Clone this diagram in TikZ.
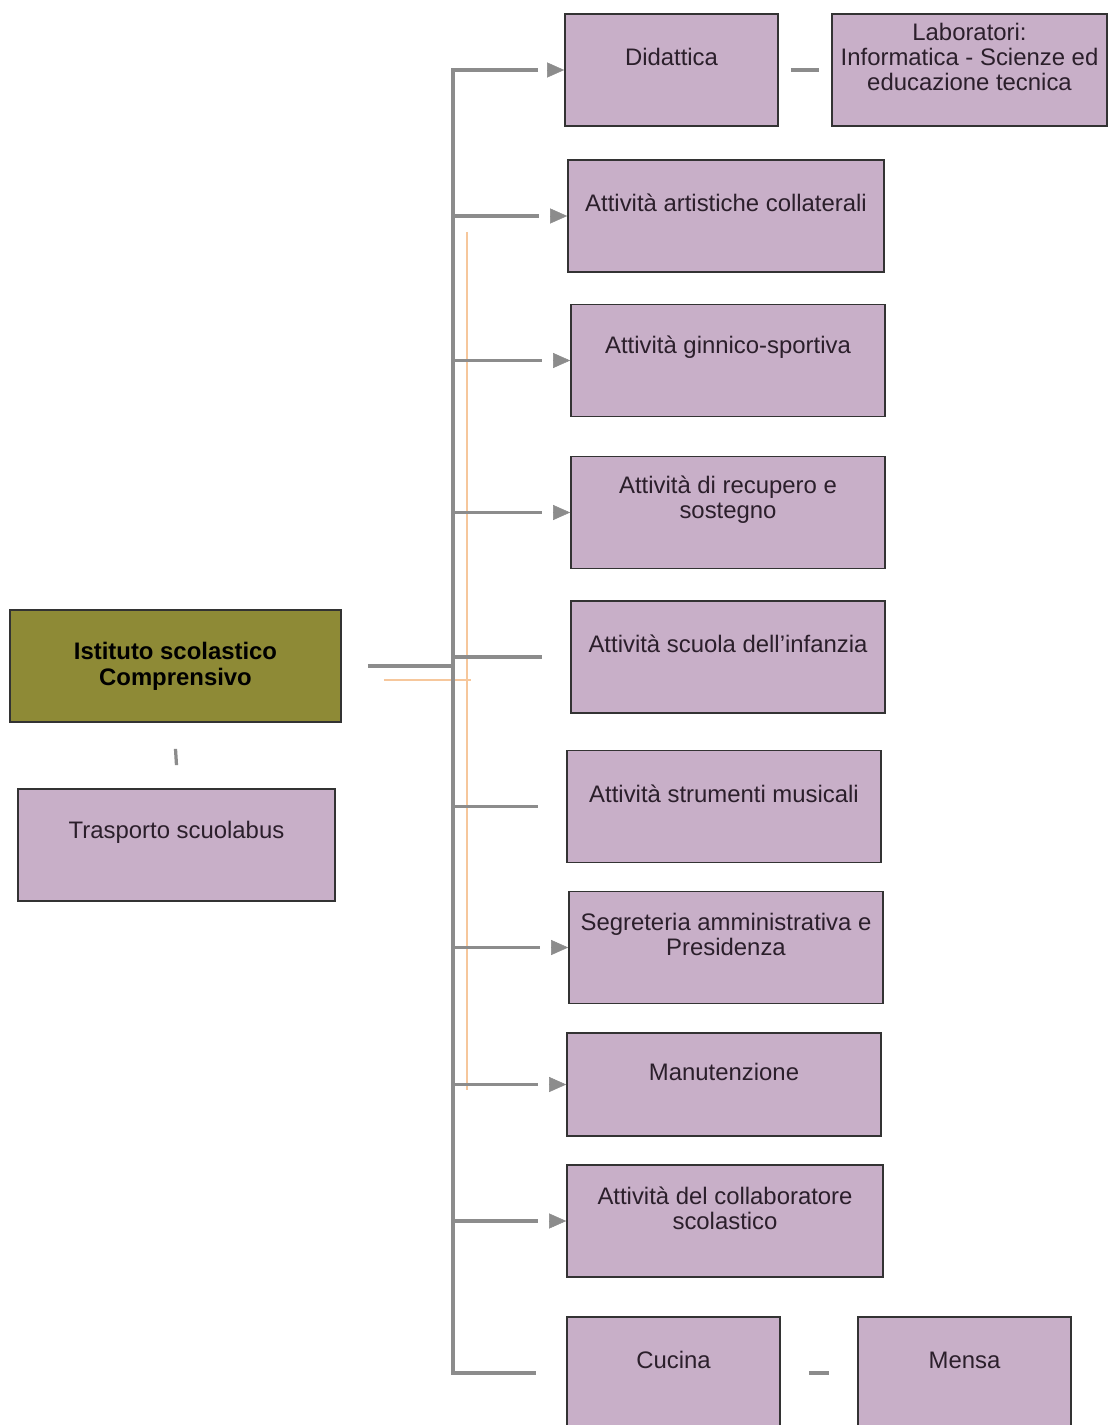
\documentclass[tikz,border=0pt]{standalone}
\usepackage{fontspec}
\setmainfont{Liberation Sans}
\usetikzlibrary{positioning}
\usetikzlibrary{arrows.meta}
\usetikzlibrary{calc}

\definecolor{lilac}{HTML}{C8AFC8}
\definecolor{olivebox}{HTML}{8E8A36}
\definecolor{linkgray}{HTML}{8C8C8C}
\definecolor{glowline}{HTML}{F6C79C}
\definecolor{inktext}{HTML}{2B1F2B}

\tikzset{
    unit/.style={draw=black!80, line width=0.035cm, fill=lilac, minimum width=6.32cm, minimum height=2.24cm, inner sep=0pt},
    caption/.style={align=center, text=inktext, font=\fontsize{13.6}{14.2}\selectfont, inner sep=0pt},
    trunkline/.style={draw=linkgray, line width=0.08cm},
    branch/.style={draw=linkgray, line width=0.065cm},
    pointer/.style={draw=linkgray, line width=0.01cm, -{Triangle[length=0.34cm, width=0.3cm]}},
    glow/.style={draw=glowline, line width=0.045cm},
}

\begin{document}
\begin{tikzpicture}[x=0.02cm, y=-0.02cm]
        \useasboundingbox (0,0) rectangle (1108,1425);
        \path[fill=white] (0,0) rectangle (1108,1425);

        % left side
        \node[unit, caption, fill=olivebox, minimum width=6.62cm, text=black, font=\fontsize{13.6}{15}\selectfont\bfseries] (root) at (175.5,666) {Istituto scolastico\\Comprensivo};
        \node[unit, minimum width=6.34cm] (transport) at (176.5,845) {};
        \node[caption] (transport-txt) at ($(transport.north)+(0,44)$) {Trasporto scuolabus};

        % right column
        \node[unit, minimum width=4.26cm] (didattica) at (671.5,70) {};
        \node[unit, minimum width=5.5cm] (lab) at (969.5,70) {};
        \node[unit] (artistiche) at (726,216) {};
        \node[unit, minimum width=6.28cm] (ginnico) at (728,360.5) {};
        \node[unit, minimum width=6.28cm] (recupero) at (728,512.5) {};
        \node[unit, minimum width=6.28cm] (infanzia) at (728,657) {};
        \node[unit, minimum width=6.28cm] (strumenti) at (724,806.5) {};
        \node[unit, minimum width=6.28cm] (segreteria) at (726,947.5) {};
        \node[unit, minimum width=6.28cm, minimum height=2.06cm] (manutenzione) at (724,1084.5) {};
        \node[unit] (collaboratore) at (725,1221) {};
        \node[unit, minimum width=4.26cm] (cucina) at (673.5,1373) {};
        \node[unit, minimum width=4.26cm] (mensa) at (964.5,1373) {};

        \node[caption] (didattica-txt) at ($(didattica.north)+(0,44)$) {Didattica};
        \node[caption] (lab-txt) at ($(lab.north)+(0,44)$) {Laboratori:\\Informatica - Scienze ed\\educazione tecnica};
        \node[caption] (artistiche-txt) at ($(artistiche.north)+(0,44)$) {Attività artistiche collaterali};
        \node[caption] (ginnico-txt) at ($(ginnico.north)+(0,44)$) {Attività ginnico-sportiva};
        \node[caption] (recupero-txt) at ($(recupero.north)+(0,44)$) {Attività di recupero e\\sostegno};
        \node[caption] (infanzia-txt) at ($(infanzia.north)+(0,44)$) {Attività scuola dell'infanzia};
        \node[caption] (strumenti-txt) at ($(strumenti.north)+(0,44)$) {Attività strumenti musicali};
        \node[caption] (segreteria-txt) at ($(segreteria.north)+(0,44)$) {Segreteria amministrativa e\\Presidenza};
        \node[caption] (manutenzione-txt) at ($(manutenzione.north)+(0,40)$) {Manutenzione};
        \node[caption] (collaboratore-txt) at ($(collaboratore.north)+(0,44)$) {Attività del collaboratore\\scolastico};
        \node[caption] (cucina-txt) at ($(cucina.north)+(0,44)$) {Cucina};
        \node[caption] (mensa-txt) at ($(mensa.north)+(0,44)$) {Mensa};

        % connectors
        \coordinate (spine) at (453,70);
        \coordinate (glowtop) at (467,232);
        \coordinate (glowbot) at (467,1090);
        \draw[glow] (glowtop) -- (glowbot);
        \draw[glow] ($(root.east)+(42,14)$) -- ++(87,0);
        \draw[trunkline] ($(didattica.west)+(-26,0)$) -- (spine) -- (spine |- cucina) -- ($(cucina.west)+(-30,0)$);
        \draw[trunkline] ($(root.east)+(26,0)$) -- (spine |- root);
        \foreach \unitname in {artistiche, ginnico, recupero, infanzia, strumenti, segreteria, manutenzione, collaboratore}
            \draw[branch] (spine |- \unitname) -- ($(\unitname.west)+(-28,0)$);
        \foreach \unitname in {didattica, artistiche, ginnico, recupero, segreteria, manutenzione, collaboratore}
            \draw[pointer] ($(\unitname.west)+(-17,0)$) -- (\unitname.west);
        \draw[branch] ($(didattica.east)+(12,0)$) -- ($(lab.west)+(-12,0)$);
        \draw[branch] ($(cucina.east)+(28,0)$) -- ($(mensa.west)+(-28,0)$);
        \draw[branch] ($(root.south)+(0,26)$) -- ($(transport.north)+(0,-23)$);
\end{tikzpicture}
\end{document}
